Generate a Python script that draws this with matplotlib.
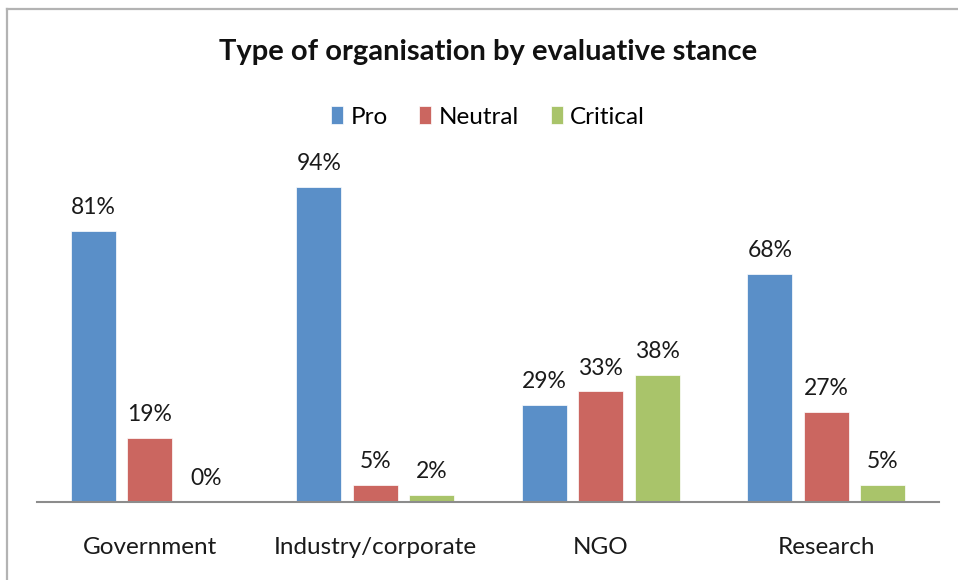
import matplotlib
matplotlib.use("Agg")
import matplotlib.pyplot as plt
from matplotlib.lines import Line2D
import numpy as np

categories = ["Government", "Industry/corporate", "NGO", "Research"]
series_names = ["Pro", "Neutral", "Critical"]
pro = [81, 94, 29, 68]
neutral = [19, 5, 33, 27]
critical = [0, 2, 38, 5]
colors = ["#5A8FC8", "#CB6660", "#A9C46A"]

plt.rcParams['font.family'] = ['Lato', 'DejaVu Sans']

W, H = 958, 580
fig = plt.figure(figsize=(W / 100, H / 100), dpi=100)
fig.patch.set_facecolor("white")

# axes placement in pixels
ax_left, ax_right, ax_bottom, ax_top = 37, 939, 502, 167
ax = fig.add_axes([ax_left / W, 1 - ax_bottom / H, (ax_right - ax_left) / W, (ax_bottom - ax_top) / H])

x = np.arange(len(categories))
width = 0.2
offsets = [-0.25, 0.0, 0.25]
handles = []
for vals, off, col, name in zip([pro, neutral, critical], offsets, colors, series_names):
    bars = ax.bar(x + off, vals, width=width, color=col, edgecolor="white", linewidth=0.5, label=name)
    handles.append(bars)
    for xi, v in zip(x + off, vals):
        ax.annotate(f"{v}%", xy=(xi, v), xytext=(0, 12.2), textcoords="offset points",
                    ha="center", va="baseline", fontsize=16.5, color="#1a1a1a")

ax.set_xlim(-0.5, len(categories) - 0.5)
ax.set_ylim(0, 100)
ax.set_xticks(x)
ax.set_xticklabels(categories, fontsize=17.5, color="#1a1a1a")
ax.tick_params(axis="x", length=0, pad=25)
ax.set_yticks([])
for s in ["top", "right", "left"]:
    ax.spines[s].set_visible(False)
ax.spines["bottom"].set_color("#8c8c8c")
ax.spines["bottom"].set_linewidth(1.5)
ax.set_facecolor("none")

# title
fig.text(488 / W, 1 - 52 / H, "Type of organisation by evaluative stance",
         ha="center", va="center", fontsize=21, fontweight="bold", color="#111111")

# legend
fig.legend(handles=handles, labels=series_names, loc="center", bbox_to_anchor=(488 / W, 1 - 117 / H),
           ncol=3, frameon=False, fontsize=17.5, handlelength=0.5, handleheight=0.7,
           handletextpad=0.3, columnspacing=1.3, borderpad=0)

# chart border (top and left)
fig.add_artist(Line2D([7 / W, 1.0], [1 - 9 / H, 1 - 9 / H], transform=fig.transFigure, color="#b3b3b3", linewidth=1.6))
fig.add_artist(Line2D([7 / W, 7 / W], [0, 1 - 9 / H], transform=fig.transFigure, color="#b3b3b3", linewidth=1.6))

fig.savefig("out.png", dpi=100, facecolor="white")
